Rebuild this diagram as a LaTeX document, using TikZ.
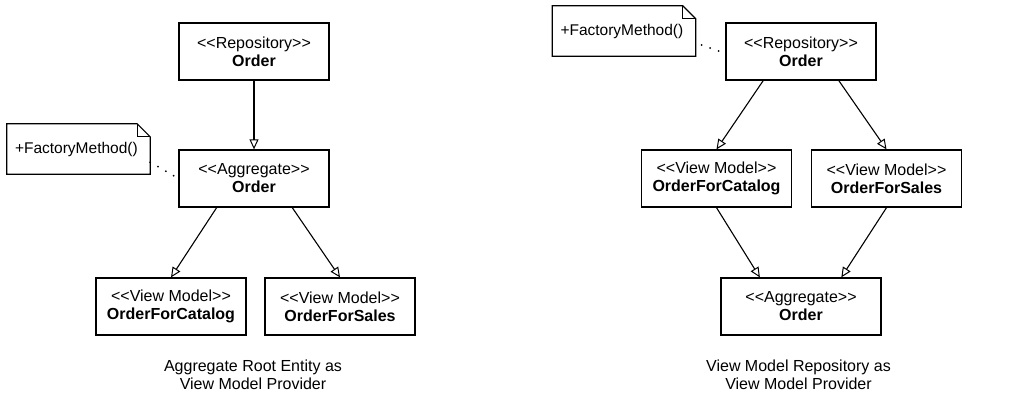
\documentclass[tikz,border=0pt]{standalone}
\usepackage{fontspec}
\setmainfont{Liberation Sans}
\usetikzlibrary{arrows.meta,calc}
\newcommand\stereo[1]{<\kern0pt<#1>\kern0pt>}
\begin{document}
\begin{tikzpicture}[x=1pt,y=-1pt,
  box/.style={draw=black,line width=1.3pt,fill=white,minimum width=150pt,minimum height=57pt,
    align=center,inner sep=0pt,font=\fontsize{16}{18}\selectfont},
  notebox/.style={minimum width=143pt,minimum height=50pt,text width=127pt,inner xsep=8pt,inner ysep=0pt,
    align=left,font=\fontsize{15.5}{18}\selectfont},
  inh/.style={draw=black,line width=1.1pt,-{Triangle[open,length=10pt,width=9pt,line width=1pt]}},
  dots/.style={draw=black,line width=2pt,line cap=round,dash pattern=on 0pt off 9pt},
  caption/.style={align=center,font=\fontsize{16}{18}\selectfont}]
\useasboundingbox (0,0) rectangle (1032,408);

% ---------- left diagram ----------
\node[box] (lrepo) at (254,51.5) {\stereo{Repository}\\\textbf{Order}};
\node[box] (lagg) at (254,178.5) {\stereo{Aggregate}\\\textbf{Order}};
\node[box] (lcat) at (171,306.5) {\stereo{View Model}\\\textbf{OrderForCatalog}};
\node[box] (lsal) at (340,306.5) {\stereo{View Model}\\\textbf{OrderForSales}};
\node[notebox] (lnote) at (78.5,149) {+FactoryMethod()};
\draw[line width=1.2pt] (lnote.north west) -- ([xshift=-13pt]lnote.north east) -- ([yshift=-13pt]lnote.north east) -- (lnote.south east) -- (lnote.south west) -- cycle;
\draw[line width=1.2pt] ([xshift=-13pt]lnote.north east) -- ([xshift=-13pt,yshift=-13pt]lnote.north east) -- ([yshift=-13pt]lnote.north east);
\coordinate (lnoteout) at ($(lnote.south east)+(0pt,12pt)$);
\draw[dots] (lnoteout) -- (lagg.west);
\draw[inh] (lrepo.south) -- (lagg.north);
\draw[inh] ($(lagg.south west)!0.253!(lagg.south east)$) -- (lcat.north);
\draw[inh] ($(lagg.south west)!0.753!(lagg.south east)$) -- (lsal.north);
\node[caption] (lcap) at (253,375) {Aggregate Root Entity as\\View Model Provider};

% ---------- right diagram ----------
\node[box] (rrepo) at (801,51.5) {\stereo{Repository}\\\textbf{Order}};
\node[box] (rcat) at (716.5,178.5) {\stereo{View Model}\\\textbf{OrderForCatalog}};
\node[box] (rsal) at (886.5,178.5) {\stereo{View Model}\\\textbf{OrderForSales}};
\node[box,minimum width=160pt] (ragg) at (801,306.5) {\stereo{Aggregate}\\\textbf{Order}};
\node[notebox] (rnote) at (624,31) {+FactoryMethod()};
\draw[line width=1.2pt] (rnote.north west) -- ([xshift=-13pt]rnote.north east) -- ([yshift=-13pt]rnote.north east) -- (rnote.south east) -- (rnote.south west) -- cycle;
\draw[line width=1.2pt] ([xshift=-13pt]rnote.north east) -- ([xshift=-13pt,yshift=-13pt]rnote.north east) -- ([yshift=-13pt]rnote.north east);
\coordinate (rnoteout) at ($(rnote.east)+(6pt,-14pt)$);
\draw[dots] (rnoteout) -- ($(rrepo.west)+(0pt,-2pt)$);
\draw[inh] ($(rrepo.south west)!0.25!(rrepo.south east)$) -- (rcat.north);
\draw[inh] ($(rrepo.south west)!0.75!(rrepo.south east)$) -- (rsal.north);
\draw[inh] (rcat.south) -- ($(ragg.north west)!0.245!(ragg.north east)$);
\draw[inh] (rsal.south) -- ($(ragg.north west)!0.75!(ragg.north east)$);
\node[caption] (rcap) at (798.5,375) {View Model Repository as\\View Model Provider};
\end{tikzpicture}
\end{document}
